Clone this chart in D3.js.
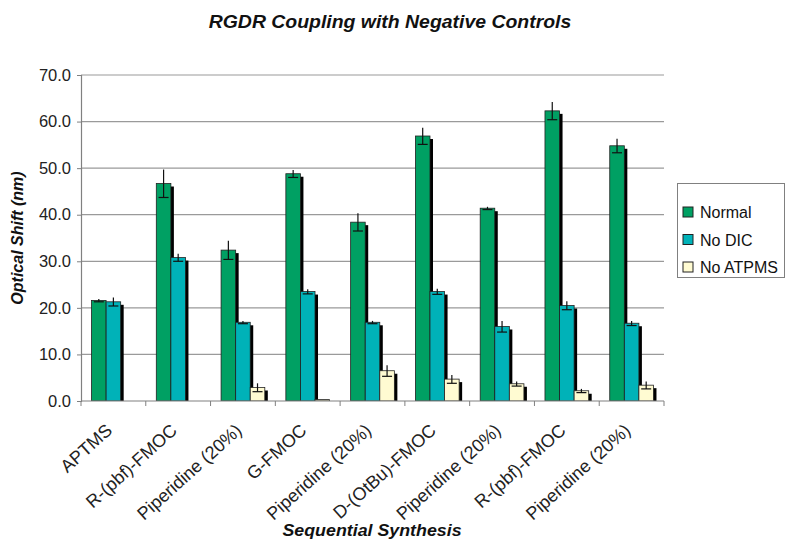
<!DOCTYPE html>
<html><head><meta charset="utf-8">
<script src="https://cdn.jsdelivr.net/npm/d3@7"></script>
<style>body{margin:0;background:#fff}svg{display:block;font-family:"Liberation Sans",Arial,sans-serif}</style>
</head><body>
<script>
const categories = ["APTMS","R-(pbf)-FMOC","Piperidine (20%)","G-FMOC","Piperidine (20%)","D-(OtBu)-FMOC","Piperidine (20%)","R-(pbf)-FMOC","Piperidine (20%)"];
const seriesNames = ["Normal","No DIC","No ATPMS"];
const normal    = [21.6, 46.7, 32.4, 48.8, 38.4, 56.9, 41.4, 62.3, 54.8];
const normalErr = [0.3, 3.0, 2.0, 0.8, 1.9, 1.8, 0.3, 1.9, 1.5];
const noDIC     = [21.3, 30.8, 16.9, 23.5, 16.9, 23.5, 16.0, 20.5, 16.7];
const noDICErr  = [0.9, 0.8, 0.3, 0.5, 0.3, 0.6, 1.2, 0.9, 0.5];
const noATPMS   = [0.0, 0.0, 2.9, 0.3, 6.5, 4.7, 3.7, 2.2, 3.4];
const noATPMSErr= [0.0, 0.0, 0.9, 0.0, 1.2, 0.9, 0.5, 0.4, 0.8];
const yTicks = [0,10,20,30,40,50,60,70];
const colors = ["#00A063","#00B2B8","#FFFBD2"];

const W=786,H=542;
const m={left:81,right:664,top:75,bottom:401};
const svg=d3.select("body").append("svg").attr("width",W).attr("height",H);

const values=[normal,noDIC,noATPMS], errs=[normalErr,noDICErr,noATPMSErr];
const x=d3.scaleBand().domain(d3.range(categories.length)).range([m.left,m.right]).paddingInner(0).paddingOuter(0);
const y=d3.scaleLinear().domain([0,70]).range([m.bottom,m.top]);
const groupW=x.bandwidth()*0.675;
const xs=d3.scaleBand().domain(d3.range(3)).range([0,groupW]);

// gridlines
svg.append("g").selectAll("line").data(yTicks.slice(1)).join("line")
  .attr("x1",m.left).attr("x2",m.right).attr("y1",d=>y(d)).attr("y2",d=>y(d))
  .attr("stroke","#9a9a9a").attr("stroke-width",1.2);

// clip for shadows
svg.append("clipPath").attr("id","pc").append("rect")
  .attr("x",m.left).attr("y",0).attr("width",m.right-m.left+10).attr("height",m.bottom);

const bars=svg.append("g").attr("clip-path","url(#pc)");
categories.forEach((c,i)=>{
  const gx=x(i)+(x.bandwidth()-groupW)/2;
  for(let s=0;s<3;s++){
    const v=values[s][i]; if(v<=0) continue;
    const bx=gx+xs(s), bw=xs.bandwidth(), by=y(v);
    bars.append("rect").attr("x",bx+3).attr("y",by+3).attr("width",bw).attr("height",m.bottom-by).attr("fill","#000");
    bars.append("rect").attr("x",bx).attr("y",by).attr("width",bw).attr("height",m.bottom-by)
      .attr("fill",colors[s]).attr("stroke","#222").attr("stroke-width",0.8);
  }
});
// error bars
const eg=svg.append("g").attr("stroke","#111").attr("stroke-width",1.2);
categories.forEach((c,i)=>{
  const gx=x(i)+(x.bandwidth()-groupW)/2;
  for(let s=0;s<3;s++){
    const v=values[s][i], e=errs[s][i]; if(e<=0) continue;
    const cx=gx+xs(s)+xs.bandwidth()/2;
    eg.append("line").attr("x1",cx).attr("x2",cx).attr("y1",y(v+e)).attr("y2",y(v-e));
    eg.append("line").attr("x1",cx-5).attr("x2",cx+5).attr("y1",y(v-e)).attr("y2",y(v-e));
  }
});

// y axis
const ya=svg.append("g").attr("transform",`translate(${m.left},0)`)
  .call(d3.axisLeft(y).tickValues(yTicks).tickFormat(d3.format(".1f")).tickSize(4).tickPadding(6));
ya.select(".domain").attr("stroke","#808080").attr("stroke-width",1.2);
ya.selectAll(".tick line").attr("stroke","#808080");
ya.selectAll("text").attr("font-size",16.5).attr("fill","#222").attr("font-family","Liberation Sans, Arial");

// x axis
const xa=svg.append("g").attr("transform",`translate(0,${m.bottom})`);
xa.append("line").attr("x1",m.left).attr("x2",m.right).attr("stroke","#808080").attr("stroke-width",1.2);
xa.selectAll("line.t").data(d3.range(categories.length+1)).join("line").attr("class","t")
  .attr("x1",d=>m.left+d*x.bandwidth()).attr("x2",d=>m.left+d*x.bandwidth()).attr("y1",0).attr("y2",5)
  .attr("stroke","#808080");
xa.selectAll("text").data(categories).join("text")
  .attr("transform",(d,i)=>`translate(${x(i)+x.bandwidth()/2},31) rotate(-42)`)
  .attr("text-anchor","end").attr("font-size",18).attr("fill","#222").text(d=>d);

// titles
svg.append("text").attr("transform","translate(390,28) scale(1.08,1)").attr("text-anchor","middle")
  .attr("font-size",18).attr("font-weight","bold").attr("font-style","italic").attr("fill","#111")
  .text("RGDR Coupling with Negative Controls");
svg.append("text").attr("transform","translate(23,238) rotate(-90)").attr("text-anchor","middle")
  .attr("font-size",16).attr("font-weight","bold").attr("font-style","italic").attr("fill","#111")
  .text("Optical Shift (nm)");
svg.append("text").attr("transform","translate(372,536) scale(1.08,1)").attr("text-anchor","middle")
  .attr("font-size",16.5).attr("font-weight","bold").attr("font-style","italic").attr("fill","#111")
  .text("Sequential Synthesis");

// legend
const lg=svg.append("g");
lg.append("rect").attr("x",677.5).attr("y",183.5).attr("width",107).attr("height",94)
  .attr("fill","#fff").attr("stroke","#808080");
seriesNames.forEach((n,i)=>{
  const cy=212+i*27.5;
  lg.append("rect").attr("x",683).attr("y",cy-5).attr("width",10).attr("height",10)
    .attr("fill",colors[i]).attr("stroke","#222").attr("stroke-width",1);
  lg.append("text").attr("x",700).attr("y",cy+6).attr("font-size",16).attr("fill","#111").text(n);
});
</script>
</body></html>
